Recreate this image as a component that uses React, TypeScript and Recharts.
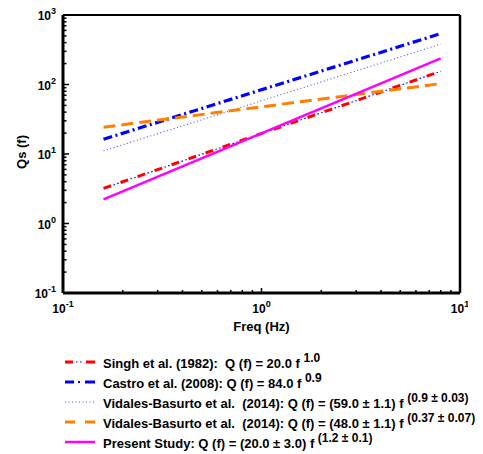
import { LineChart, Line, XAxis, YAxis, ReferenceLine } from "recharts";

// endpoints of each fitted relation (log-log straight lines)
const freq = [0.16, 8];
const singh = [3.2, 155];
const castro = [16.3, 540];
const vidales59 = [11.1, 382];
const vidales48 = [24.3, 103];
const present = [2.22, 238];

const xDecades = [0.1, 1, 10];
const yDecades = [0.1, 1, 10, 100, 1000];
const minorSteps = [2, 3, 4, 5, 6, 7, 8, 9];

const data = freq.map((f, i) => ({
  f,
  singh: singh[i],
  castro: castro[i],
  vidales59: vidales59[i],
  vidales48: vidales48[i],
  present: present[i],
}));

const withMinors = (decades: number[]) => {
  const out: number[] = [];
  decades.forEach((d, i) => {
    out.push(d);
    if (i < decades.length - 1) minorSteps.forEach((m) => out.push(+(d * m).toPrecision(6)));
  });
  return out;
};

const isDecade = (v: number) => Math.abs(Math.log10(v) - Math.round(Math.log10(v))) < 1e-6;

const font = "'Liberation Sans', Arial, sans-serif";

const YTick = (props: any) => {
  const { x, y, payload } = props;
  const v = payload.value;
  const major = isDecade(v);
  const ax = x + 6;
  return (
    <g>
      <line x1={ax} x2={ax + (major ? 6 : 3.5)} y1={y} y2={y} stroke="#000" strokeWidth={1.5} />
      {major && (
        <text x={x - 1} y={y} dy={5} textAnchor="end" fontFamily={font} fontWeight="bold" fontSize={12} fill="#000">
          10
          <tspan dy={-6} fontSize={9}>
            {Math.round(Math.log10(v))}
          </tspan>
        </text>
      )}
    </g>
  );
};

const XTick = (props: any) => {
  const { x, y, payload } = props;
  const v = payload.value;
  const major = isDecade(v);
  const ay = y - 6;
  return (
    <g>
      <line x1={x} x2={x} y1={ay} y2={ay - (major ? 5 : 3)} stroke="#000" strokeWidth={1.5} />
      {major && (
        <text x={x} y={ay} dy={20} textAnchor="middle" fontFamily={font} fontWeight="bold" fontSize={12} fill="#000">
          10
          <tspan dy={-6} fontSize={9}>
            {Math.round(Math.log10(v))}
          </tspan>
        </text>
      )}
    </g>
  );
};

const legendRows = [
  { key: "singh", text: "Singh et al. (1982):  Q (f) = 20.0 f ", sup: "1.0" },
  { key: "castro", text: "Castro et al. (2008): Q (f) = 84.0 f ", sup: "0.9" },
  { key: "vidales59", text: "Vidales-Basurto et al.  (2014): Q (f) = (59.0 ± 1.1) f ", sup: "(0.9 ± 0.03)" },
  { key: "vidales48", text: "Vidales-Basurto et al.  (2014): Q (f) = (48.0 ± 1.1) f ", sup: "(0.37 ± 0.07)" },
  { key: "present", text: "Present Study: Q (f) = (20.0 ± 3.0) f ", sup: "(1.2 ± 0.1)" },
];

const Sample = ({ k }: { k: string }) => (
  <svg width={30} height={6} style={{ display: "block" }}>
    {k === "singh" && (
      <>
        <line x1={0} x2={8} y1={3} y2={3} stroke="#ff0000" strokeWidth={3} />
        <line x1={0} x2={30} y1={3} y2={3} stroke="#0000ff" strokeWidth={1.2} strokeDasharray="0 11 1.5 2.5 1.5 30" />
        <line x1={21} x2={30} y1={3} y2={3} stroke="#ff0000" strokeWidth={3} />
      </>
    )}
    {k === "castro" && (
      <>
        <line x1={0} x2={9} y1={3} y2={3} stroke="#0000ff" strokeWidth={3} />
        <line x1={13} x2={15} y1={3} y2={3} stroke="#0000ff" strokeWidth={2} />
        <line x1={20} x2={30} y1={3} y2={3} stroke="#0000ff" strokeWidth={3} />
      </>
    )}
    {k === "vidales59" && (
      <line x1={0} x2={30} y1={3} y2={3} stroke="#4b4bff" strokeWidth={1} strokeDasharray="1 2.5" />
    )}
    {k === "vidales48" && (
      <>
        <line x1={0} x2={10} y1={3} y2={3} stroke="#ff8000" strokeWidth={3} />
        <line x1={20} x2={30} y1={3} y2={3} stroke="#ff8000" strokeWidth={3} />
      </>
    )}
    {k === "present" && <line x1={0} x2={30} y1={3} y2={3} stroke="#ff00ff" strokeWidth={2.5} />}
  </svg>
);

export default function App() {
  return (
    <div style={{ position: "relative", width: 475, height: 446, fontFamily: font, background: "#fff" }}>
      <div style={{ position: "absolute", left: 0, top: -10 }}>
        <LineChart width={460} height={340} data={data} margin={{ top: 17, right: 8, bottom: 5, left: 5 }}>
          <XAxis
            dataKey="f"
            type="number"
            scale="log"
            domain={[0.1, 10]}
            allowDataOverflow
            ticks={withMinors(xDecades)}
            interval={0}
            tick={<XTick />}
            tickLine={false}
            tickSize={0}
            tickMargin={6}
            height={40}
            axisLine={{ stroke: "#000", strokeWidth: 3 }}
            label={{
              content: (p: any) => (
                <text
                  x={p.viewBox.x + p.viewBox.width / 2}
                  y={p.viewBox.y + 38}
                  textAnchor="middle"
                  fontFamily={font}
                  fontWeight="bold"
                  fontSize={13}
                  fill="#000"
                >
                  Freq (Hz)
                </text>
              ),
            }}
          />
          <YAxis
            type="number"
            scale="log"
            domain={[0.1, 1000]}
            allowDataOverflow
            ticks={withMinors(yDecades)}
            interval={0}
            tick={<YTick />}
            tickLine={false}
            tickSize={0}
            tickMargin={6}
            width={50}
            axisLine={{ stroke: "#000", strokeWidth: 3 }}
            label={{
              content: (p: any) => {
                const cx = p.viewBox.x + 13;
                const cy = p.viewBox.y + p.viewBox.height / 2 - 2;
                return (
                  <text
                    x={cx}
                    y={cy}
                    transform={`rotate(-90 ${cx} ${cy})`}
                    textAnchor="middle"
                    fontFamily={font}
                    fontWeight="bold"
                    fontSize={13}
                    fill="#000"
                  >
                    Qs (f)
                  </text>
                );
              },
            }}
          />
          <ReferenceLine y={1000} stroke="#000" strokeWidth={2} />
          <ReferenceLine x={10} stroke="#000" strokeWidth={2.5} />
          <Line dataKey="singh" stroke="#ff0000" strokeWidth={3} strokeDasharray="8 10" dot={false} isAnimationActive={false} />
          <Line dataKey="singh" stroke="#0000ff" strokeWidth={1.2} strokeDasharray="0 10.5 1.5 2.5 1.5 2" dot={false} isAnimationActive={false} />
          <Line dataKey="castro" stroke="#0000ff" strokeWidth={3.2} strokeDasharray="9 3.5 2 3.5" dot={false} isAnimationActive={false} />
          <Line dataKey="vidales59" stroke="#4b4bff" strokeWidth={1.1} strokeDasharray="1 2.5" dot={false} isAnimationActive={false} />
          <Line dataKey="vidales48" stroke="#ff8000" strokeWidth={3} strokeDasharray="12 6" dot={false} isAnimationActive={false} />
          <Line dataKey="present" stroke="#ff00ff" strokeWidth={2.5} dot={false} isAnimationActive={false} />
        </LineChart>
      </div>
      <div style={{ position: "absolute", left: 57, top: 344 }}>
        {legendRows.map((r) => (
          <div key={r.key} style={{ display: "flex", alignItems: "center", height: 20, lineHeight: "20px" }}>
            <Sample k={r.key} />
            <span style={{ marginLeft: 8, fontWeight: "bold", fontSize: 13, color: "#000", whiteSpace: "pre", marginTop: 4 }}>
              {r.text}
              <span style={{ position: "relative", top: -6, fontSize: 12, lineHeight: "0" }}>{r.sup}</span>
            </span>
          </div>
        ))}
      </div>
    </div>
  );
}
